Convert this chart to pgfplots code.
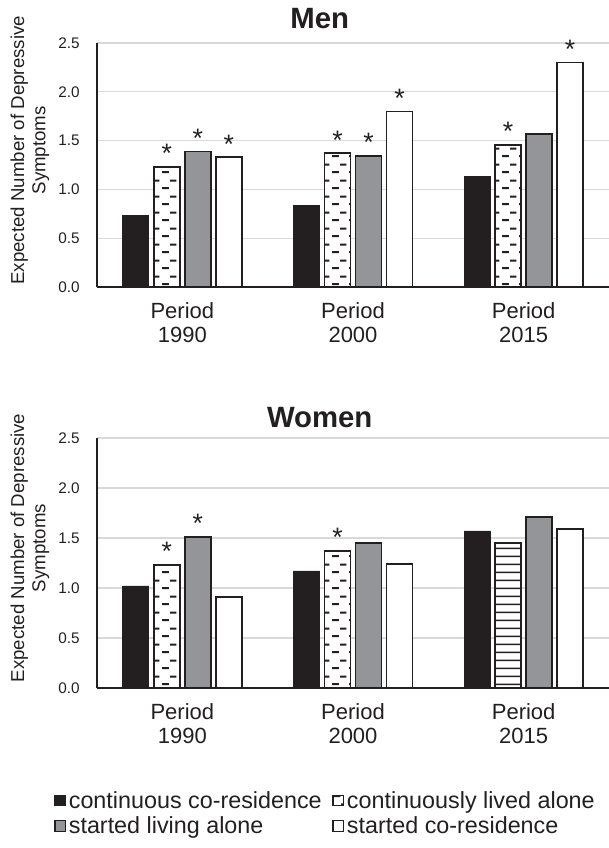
\documentclass[border=0pt]{standalone}
\usepackage{pgfplots}
\pgfplotsset{compat=1.18}
\usepackage{fontspec}
\setmainfont{Liberation Sans}
\usetikzlibrary{patterns}
\definecolor{barblack}{HTML}{231F20}
\definecolor{bargray}{HTML}{939598}
\definecolor{gridgray}{HTML}{D9D9D9}

\pgfdeclarepatternformonly{brickdash}{\pgfpointorigin}{\pgfpoint{12.8pt}{12pt}}{\pgfpoint{12.8pt}{12pt}}{%
  \pgfsetlinewidth{1.6pt}%
  \pgfpathmoveto{\pgfpoint{7.2pt}{3pt}}\pgfpathlineto{\pgfpoint{12.6pt}{3pt}}%
  \pgfpathmoveto{\pgfpoint{0pt}{9pt}}\pgfpathlineto{\pgfpoint{5.0pt}{9pt}}%
  \pgfusepath{stroke}%
}
\pgfdeclarepatternformonly{hlinessix}{\pgfpointorigin}{\pgfpoint{10pt}{6pt}}{\pgfpoint{10pt}{6pt}}{%
  \pgfsetlinewidth{1.3pt}%
  \pgfpathmoveto{\pgfpoint{-1pt}{3pt}}\pgfpathlineto{\pgfpoint{11pt}{3pt}}%
  \pgfusepath{stroke}%
}

\pgfplotsset{
  myaxis/.style={
    scale only axis, width=384pt,
    xmin=-0.5, xmax=2.5, ymin=0, ymax=2.5,
    ytick={0,0.5,1,1.5,2,2.5},
    axis x line*=bottom, axis y line*=left,
    axis line style={-, draw=barblack, line width=1.5pt},
    ymajorgrids, grid style={draw=gridgray, line width=0.9pt},
    major tick length=0pt,
    xtick={0,1,2},
    xticklabels={{Period\\1990},{Period\\2000},{Period\\2015}},
    xticklabel style={align=center, font=\fontsize{16.5}{18.5}\selectfont, text=barblack, yshift=-8pt},
    yticklabel style={font=\fontsize{11.5}{13}\selectfont, text=barblack, xshift=-9.5pt},
    yticklabel={\pgfmathprintnumber[fixed,fixed zerofill,precision=1]{\tick}},
    /pgf/number format/assume math mode=true,
    ylabel={Expected Number of Depressive\\Symptoms},
    ylabel style={at={(axis description cs:-0.131,0.56)}, anchor=center, align=center,
      font=\fontsize{14}{16}\selectfont, text=barblack},
    title style={at={(axis description cs:0.435,1)}, anchor=south,
      font=\bfseries\fontsize{22}{26}\selectfont, text=barblack, yshift=1pt},
    clip=false,
    every node near coord/.append style={font=\fontsize{20}{22}\selectfont, text=barblack, anchor=south, inner sep=0pt, yshift=2.5pt},
  },
  barbase/.style={ybar, bar width=19.5pt,
    legend image code/.code={\draw[##1, line width=0.9pt] (0pt,-4pt) rectangle (8pt,4pt);}},
  blackbar/.style={barbase, fill=barblack, draw=barblack, line width=0.6pt, bar shift=-34.875pt,
    every node near coord/.append style={xshift=-34.875pt}},
  dashbar/.style={barbase, fill=white, draw=barblack, line width=1.2pt,
    postaction={pattern=brickdash, pattern color=barblack}, bar shift=-11.625pt,
    every node near coord/.append style={xshift=-11.625pt}},
  hlinebar/.style={barbase, fill=white, draw=barblack, line width=1.2pt,
    postaction={pattern=hlinessix, pattern color=barblack}, bar shift=-11.625pt},
  graybar/.style={barbase, fill=bargray, draw=barblack, line width=1.2pt, bar shift=11.625pt,
    every node near coord/.append style={xshift=11.625pt}},
  whitebar/.style={barbase, fill=white, draw=barblack, line width=1.2pt, bar shift=34.875pt,
    every node near coord/.append style={xshift=34.875pt}},
  stars/.style={nodes near coords, point meta=explicit symbolic},
}

\begin{document}
\begin{tikzpicture}
\path[use as bounding box] (-72.75pt,-120pt) rectangle (384pt,516pt);

% Men
\begin{axis}[myaxis, height=183pt, at={(0pt,300.75pt)}, anchor=south west, title={Men}]
\addplot[blackbar] coordinates {(0,0.73) (1,0.84) (2,1.13)};
\addplot[dashbar, stars] table[x=x, y=y, meta=s] {
x y s
0 1.23 *
1 1.37 *
2 1.455 *
};
\addplot[graybar, stars] table[x=x, y=y, meta=s] {
x y s
0 1.39 *
1 1.345 *
2 1.565 {}
};
\addplot[whitebar, stars] table[x=x, y=y, meta=s] {
x y s
0 1.33 *
1 1.80 *
2 2.30 *
};
\end{axis}

% Women
\begin{axis}[myaxis, height=187.5pt, at={(0pt,0pt)}, anchor=south west, title={Women},
  title style={yshift=-3pt},
  legend columns=2,
  legend style={at={(axis description cs:0.447,-0.39)}, anchor=north, draw=none, fill=none,
    font=\fontsize{17.5}{20}\selectfont, text=barblack,
    /tikz/every even column/.append style={column sep=6pt},
    row sep=1pt},
  legend cell align=left]
\addplot[blackbar] coordinates {(0,1.02) (1,1.17) (2,1.57)};
\addlegendentry{continuous co-residence}
\addplot[dashbar, stars] table[x=x, y=y, meta=s] {
x y s
0 1.23 *
1 1.37 *
};
\addlegendentry{continuously lived alone}
\addplot[graybar, stars] table[x=x, y=y, meta=s] {
x y s
0 1.51 *
1 1.45 {}
2 1.71 {}
};
\addlegendentry{started living alone}
\addplot[whitebar] coordinates {(0,0.91) (1,1.24) (2,1.59)};
\addlegendentry{started co-residence}
\addplot[hlinebar, forget plot] coordinates {(2,1.45)};
\end{axis}
\end{tikzpicture}
\end{document}
